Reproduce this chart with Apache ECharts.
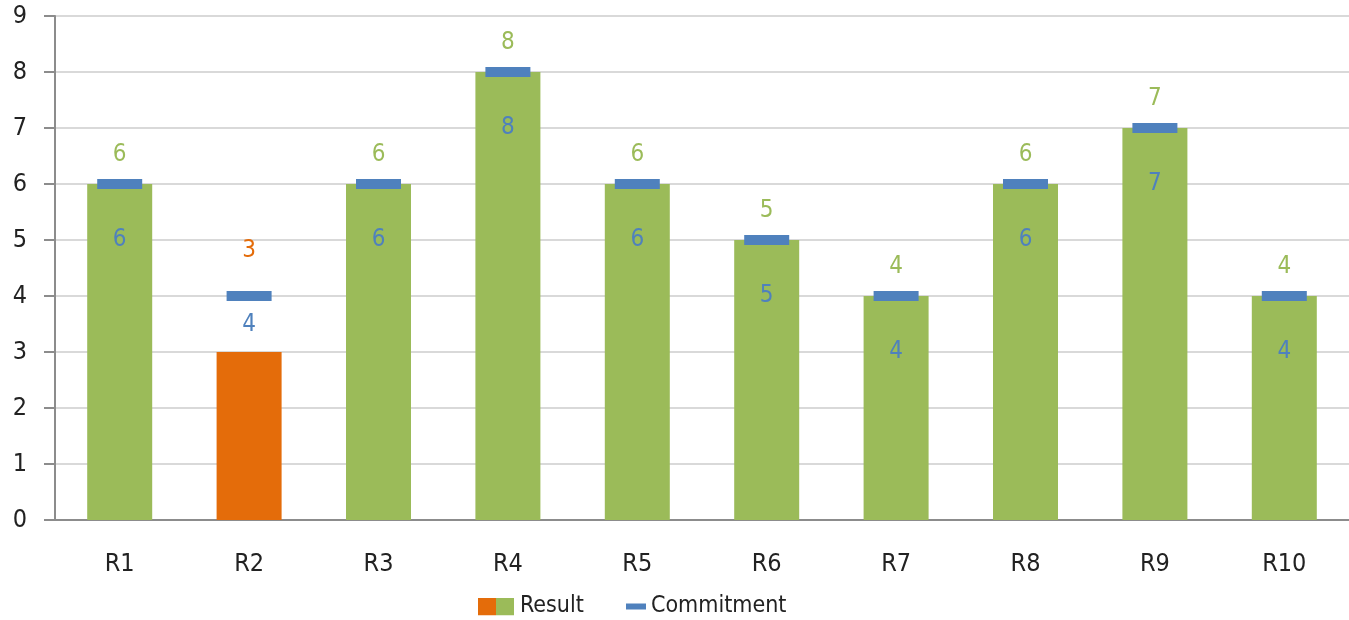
<!DOCTYPE html>
<html>
<head>
<meta charset="utf-8">
<style>
  html, body { margin: 0; padding: 0; background: #ffffff; }
  #chart { width: 1349px; height: 620px; }
</style>
<script src="https://cdn.jsdelivr.net/npm/echarts@6/dist/echarts.min.js"></script>
</head>
<body>
<div id="chart"></div>
<script>
// Rounds and their scores
const categories = ['R1', 'R2', 'R3', 'R4', 'R5', 'R6', 'R7', 'R8', 'R9', 'R10'];
const results = [6, 3, 6, 8, 6, 5, 4, 6, 7, 4];
const commitments = [6, 4, 6, 8, 6, 5, 4, 6, 7, 4];
const yTicks = [0, 1, 2, 3, 4, 5, 6, 7, 8, 9];

const GREEN = '#9bbb59';
const ORANGE = '#e46c0a';
const BLUE = '#4f81bd';
const FONT = '"Liberation Sans Narrow", "Arial Narrow", "DejaVu Sans Condensed", sans-serif';

// A result below its commitment is shown in orange
const resultData = results.map((v, i) => {
  const missed = v < commitments[i];
  return {
    value: v,
    itemStyle: { color: missed ? ORANGE : GREEN },
    label: {
      color: missed ? ORANGE : GREEN,
      distance: missed ? 89 : 17
    }
  };
});

const commitmentData = commitments.map((v, i) => {
  const missed = results[i] < v;
  return {
    value: v,
    label: { distance: missed ? 12 : 39 }
  };
});

// Two-tone legend swatch for the result series
const resultIcon = 'image://data:image/svg+xml;utf8,' + encodeURIComponent(
  '<svg xmlns="http://www.w3.org/2000/svg" width="36" height="18">' +
  '<rect x="0" y="0" width="18" height="18" fill="' + ORANGE + '"/>' +
  '<rect x="18" y="0" width="18" height="18" fill="' + GREEN + '"/></svg>'
);

const chart = echarts.init(document.getElementById('chart'), null, { renderer: 'canvas' });

chart.setOption({
  animation: false,
  textStyle: { fontFamily: FONT },
  grid: { left: 55, right: -2, top: 16, bottom: 100, containLabel: false },
  legend: [
    {
      data: [{ name: 'Result', icon: resultIcon }],
      left: 478, top: 595, padding: 0,
      itemWidth: 36, itemHeight: 18, itemGap: 0,
      textStyle: { fontFamily: FONT, fontSize: 23, color: '#222', padding: [0, 0, 0, 1] }
    },
    {
      data: [{ name: 'Commitment', icon: 'rect' }],
      left: 626, top: 595, padding: 0,
      itemWidth: 20, itemHeight: 6,
      textStyle: { fontFamily: FONT, fontSize: 23, color: '#222', padding: [0, 0, 0, 0] }
    }
  ],
  xAxis: {
    type: 'category',
    data: categories,
    boundaryGap: true,
    axisLine: { show: true, lineStyle: { color: '#8c8c8c', width: 2 } },
    axisTick: { show: false },
    axisLabel: { fontFamily: FONT, fontSize: 25, color: '#222', margin: 32 }
  },
  yAxis: {
    type: 'value',
    min: yTicks[0],
    max: yTicks[yTicks.length - 1],
    interval: 1,
    axisLine: { show: true, lineStyle: { color: '#8c8c8c', width: 2 } },
    axisTick: { show: true, length: 11, lineStyle: { color: '#8c8c8c', width: 2 } },
    splitLine: { show: true, lineStyle: { color: '#d9d9d9', width: 2 } },
    axisLabel: { fontFamily: FONT, fontSize: 25, color: '#222', margin: 28 }
  },
  series: [
    {
      name: 'Result',
      type: 'bar',
      data: resultData,
      barWidth: 65,
      itemStyle: { color: GREEN },
      label: {
        show: true,
        position: 'top',
        fontFamily: FONT,
        fontSize: 24,
        color: GREEN
      },
      z: 2
    },
    {
      name: 'Commitment',
      type: 'scatter',
      data: commitmentData,
      symbol: 'rect',
      symbolSize: [45, 10],
      itemStyle: { color: BLUE, opacity: 1 },
      label: {
        show: true,
        position: 'bottom',
        fontFamily: FONT,
        fontSize: 24,
        color: BLUE
      },
      z: 3
    }
  ]
});
</script>
</body>
</html>
